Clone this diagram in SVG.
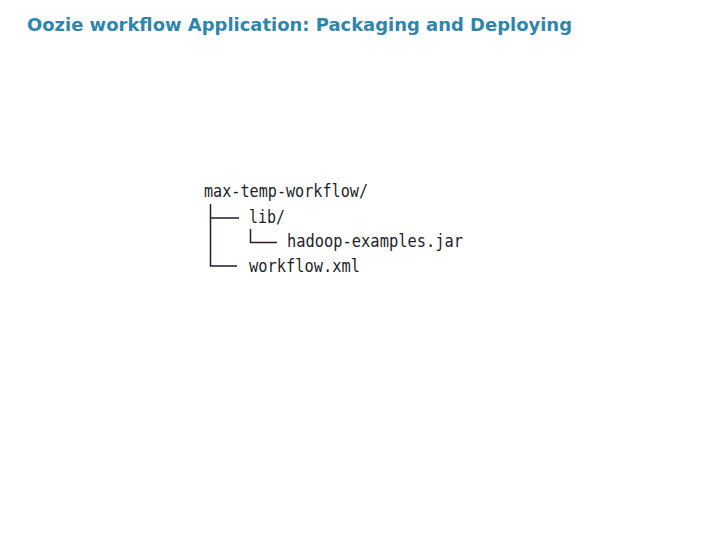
<svg xmlns="http://www.w3.org/2000/svg" width="720" height="540" viewBox="0 0 720 540">
<style>
.title{font-family:"DejaVu Sans",Verdana,sans-serif;font-weight:bold;font-size:17px;fill:#2f86ad}
.mono{font-family:"DejaVu Sans Mono","Liberation Mono",monospace;font-size:17.5px;fill:#1e1e28}
.ln{stroke:#2a1a2a;stroke-width:1.5;fill:none}
</style>
<rect width="720" height="540" fill="#ffffff"/>
<text class="title" x="27" y="31" textLength="545" lengthAdjust="spacingAndGlyphs">Oozie workflow Application: Packaging and Deploying</text>
<g id="connectors">
<path class="ln" d="M210.5,204 V266 H237"/>
<path class="ln" d="M210.5,218 H239"/>
<path class="ln" d="M250.5,229 V242.5 H277"/>
</g>
<g id="root"><text class="mono" x="204" y="197" textLength="164" lengthAdjust="spacingAndGlyphs">max-temp-workflow/</text></g>
<g id="lib"><text class="mono" x="249" y="223" textLength="36" lengthAdjust="spacingAndGlyphs">lib/</text></g>
<g id="jar"><text class="mono" x="287" y="247" textLength="176" lengthAdjust="spacingAndGlyphs">hadoop-examples.jar</text></g>
<g id="xml"><text class="mono" x="249" y="272" textLength="111" lengthAdjust="spacingAndGlyphs">workflow.xml</text></g>
</svg>
